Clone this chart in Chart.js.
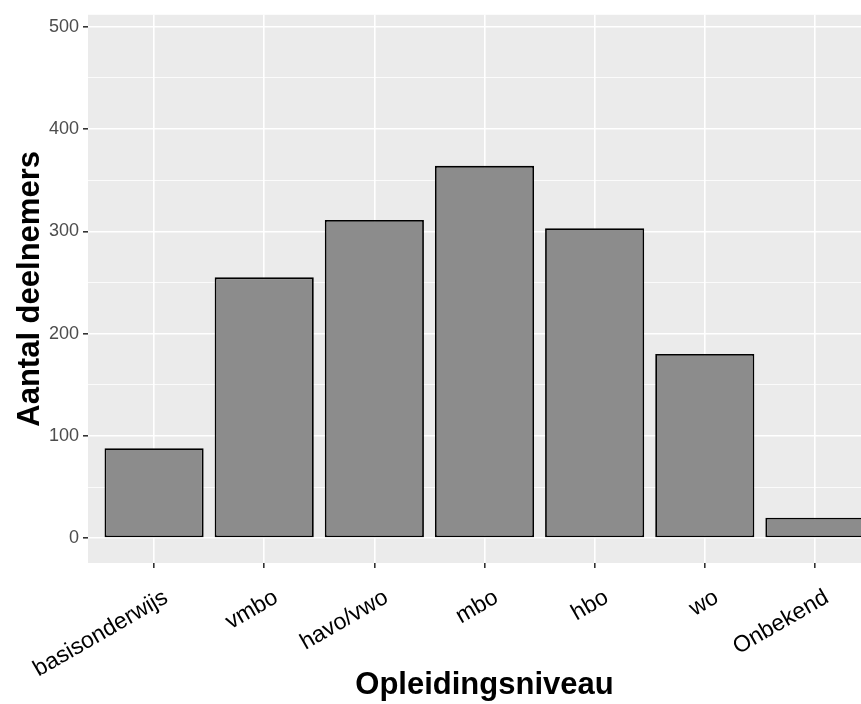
<!DOCTYPE html>
<html>
<head>
<meta charset="utf-8">
<script src="https://cdn.jsdelivr.net/npm/chart.js@4/dist/chart.umd.min.js"></script>
<style>
  html, body { margin: 0; padding: 0; background: #ffffff; overflow: hidden; }
  #wrap { width: 861px; height: 704px; overflow: hidden; }
</style>
</head>
<body>
<div id="wrap"><canvas id="chart" width="890" height="704"></canvas></div>
<script>
// Opleidingsniveau van de deelnemers
const categorieen = ['basisonderwijs', 'vmbo', 'havo/vwo', 'mbo', 'hbo', 'wo', 'Onbekend'];
const aantallen = [88, 255, 311, 364, 303, 180, 20];
const yTicks = [0, 50, 100, 150, 200, 250, 300, 350, 400, 450, 500];

const fontFamily = '"Liberation Sans", Arial, sans-serif';

// grijze achtergrond van het paneel (ggplot-stijl)
const panelAchtergrond = {
    id: 'panelAchtergrond',
    beforeDraw(chart) {
        const { ctx, chartArea } = chart;
        ctx.save();
        ctx.fillStyle = '#EBEBEB';
        ctx.fillRect(chartArea.left, chartArea.top, chartArea.right - chartArea.left, chartArea.bottom - chartArea.top);
        ctx.restore();
    }
};

const ctx = document.getElementById('chart').getContext('2d');
const chart = new Chart(ctx, {
    type: 'bar',
    data: {
        datasets: [{
            data: aantallen.map((v, i) => ({ x: i, y: v })),
            backgroundColor: '#8C8C8C',
            borderColor: '#000000',
            borderWidth: 1.8,
            borderSkipped: false,
            barPercentage: 0.9,
            categoryPercentage: 1
        }]
    },
    options: {
        responsive: false,
        animation: false,
        layout: { padding: { left: 0, top: 11, right: 9, bottom: 0 } },
        plugins: {
            legend: { display: false },
            tooltip: { enabled: false }
        },
        scales: {
            x: {
                type: 'linear',
                min: -0.6,
                max: 6.6,
                offset: false,
                afterBuildTicks: function(scale) {
                    scale.ticks = categorieen.map((c, i) => ({ value: i }));
                },
                afterFit: function(scale) {
                    scale.height = 141;
                },
                border: { display: false },
                grid: {
                    offset: false,
                    color: '#FFFFFF',
                    lineWidth: 1.6,
                    tickColor: '#333333',
                    tickLength: 5
                },
                ticks: {
                    autoSkip: false,
                    maxRotation: 30,
                    minRotation: 30,
                    padding: 16,
                    labelOffset: 12,
                    color: '#000000',
                    font: { family: fontFamily, size: 23 },
                    callback: function(value) {
                        return categorieen[value];
                    }
                },
                title: {
                    display: true,
                    text: 'Opleidingsniveau',
                    color: '#000000',
                    font: { family: fontFamily, size: 31, weight: 'bold' },
                    padding: { top: 0, bottom: 0 }
                }
            },
            y: {
                min: -24.3,
                max: 511.7,
                afterBuildTicks: function(scale) {
                    scale.ticks = yTicks.map(v => ({ value: v }));
                },
                afterFit: function(scale) {
                    scale.width = 88;
                },
                border: { display: false },
                grid: {
                    color: '#FFFFFF',
                    lineWidth: function(context) {
                        return context.tick && context.tick.value % 100 === 0 ? 1.6 : 0.8;
                    },
                    tickColor: function(context) {
                        return context.tick && context.tick.value % 100 === 0 ? '#333333' : 'rgba(0,0,0,0)';
                    },
                    tickLength: 5
                },
                ticks: {
                    padding: 4,
                    color: '#4D4D4D',
                    font: { family: fontFamily, size: 18 },
                    callback: function(value) {
                        return value % 100 === 0 ? value : '';
                    }
                },
                title: {
                    display: true,
                    text: 'Aantal deelnemers',
                    color: '#000000',
                    font: { family: fontFamily, size: 31, weight: 'bold' },
                    padding: { top: 12, bottom: 0 }
                }
            }
        }
    },
    plugins: [panelAchtergrond]
});
</script>
</body>
</html>
